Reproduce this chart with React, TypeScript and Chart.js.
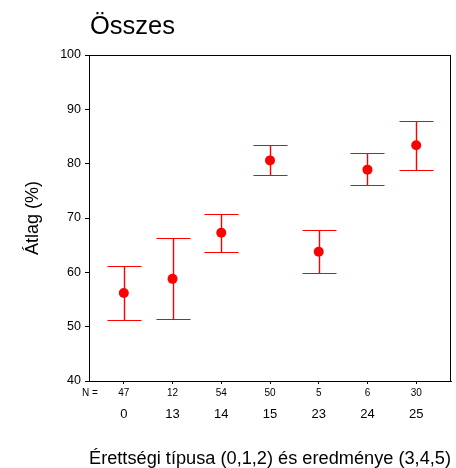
import React, { useEffect, useRef } from "react";
import { Chart, registerables } from "chart.js";

Chart.register(...registerables);

const categories = ["0", "13", "14", "15", "23", "24", "25"];
const counts = ["47", "12", "54", "50", "5", "6", "30"];
const means = [56.2, 58.8, 67.3, 80.6, 63.8, 78.9, 83.4];
const lower = [51.3, 51.4, 63.7, 77.9, 59.9, 76.1, 78.9];
const upper = [61.1, 66.3, 70.7, 83.4, 67.8, 81.9, 87.9];
const yTicks = [40, 50, 60, 70, 80, 90, 100];

const FONT = "'Liberation Sans', Arial, sans-serif";
const RED = "#ff0000";

const errorBars = {
  id: "errorBars",
  afterDatasetsDraw(chart: any) {
    const { ctx, chartArea } = chart;
    const xs = chart.scales.x;
    const ys = chart.scales.y;
    ctx.save();
    ctx.strokeStyle = RED;
    const half = 17;
    categories.forEach((_, i) => {
      const x = Math.round(xs.getPixelForValue(i)) + 0.5;
      const yl = Math.round(ys.getPixelForValue(lower[i])) + 0.5;
      const yu = Math.round(ys.getPixelForValue(upper[i])) + 0.5;
      ctx.lineWidth = 1.4;
      ctx.beginPath();
      ctx.moveTo(x, yl);
      ctx.lineTo(x, yu);
      ctx.stroke();
      ctx.lineWidth = 1.2;
      ctx.beginPath();
      ctx.moveTo(x - half, yl);
      ctx.lineTo(x + half, yl);
      ctx.moveTo(x - half, yu);
      ctx.lineTo(x + half, yu);
      ctx.stroke();
    });
    ctx.strokeStyle = "#000";
    ctx.lineWidth = 1;
    ctx.strokeRect(
      Math.round(chartArea.left) + 0.5,
      Math.round(chartArea.top) + 0.5,
      Math.round(chartArea.right - chartArea.left) - 1,
      Math.round(chartArea.bottom - chartArea.top)
    );
    ctx.restore();
  },
  afterDraw(chart: any) {
    const { ctx, chartArea } = chart;
    ctx.save();
    ctx.fillStyle = "#000";
    ctx.font = `25.5px ${FONT}`;
    ctx.textBaseline = "alphabetic";
    ctx.textAlign = "left";
    ctx.fillText("Összes", chartArea.left + 1, 34);
    ctx.font = `10px ${FONT}`;
    ctx.textAlign = "center";
    ctx.textBaseline = "middle";
    ctx.fillText("N =", chartArea.left + 1, 393);
    ctx.restore();
  },
};

export default function App() {
  const ref = useRef<HTMLCanvasElement | null>(null);
  useEffect(() => {
    if (!ref.current) return;
    const chart = new Chart(ref.current, {
      type: "scatter",
      data: {
        datasets: [
          {
            data: means.map((m, i) => ({ x: i, y: m })),
            backgroundColor: RED,
            borderColor: RED,
            pointStyle: "circle",
            pointRadius: 5,
            pointBorderWidth: 0,
            xAxisID: "x",
            yAxisID: "y",
          },
        ],
      },
      options: {
        animation: false,
        responsive: false,
        layout: { padding: { top: 55, right: 1, left: 0, bottom: 0 } },
        plugins: {
          legend: { display: false },
          tooltip: { enabled: false },
          title: { display: false },
        },
        scales: {
          y: {
            type: "linear",
            min: 40,
            max: 100,
            afterBuildTicks: (axis: any) => {
              axis.ticks = yTicks.map((v) => ({ value: v }));
            },
            afterFit: (axis: any) => {
              axis.width = 89;
            },
            ticks: {
              color: "#000",
              font: { family: FONT, size: 12.5 },
              padding: 4,
            },
            grid: {
              display: true,
              drawOnChartArea: false,
              drawTicks: true,
              tickLength: 4,
              color: "#000",
            },
            border: { display: true, color: "#000" },
            title: {
              display: true,
              text: "Átlag (%)",
              color: "#000",
              font: { family: FONT, size: 18 },
              padding: { top: 22, bottom: 0 },
            },
          },
          xN: {
            type: "linear",
            position: "bottom",
            weight: 0,
            min: -0.714,
            max: 6.714,
            afterBuildTicks: (axis: any) => {
              axis.ticks = categories.map((_, i) => ({ value: i }));
            },
            afterFit: (axis: any) => {
              axis.height = 22;
            },
            ticks: {
              color: "#000",
              font: { family: FONT, size: 10 },
              padding: 3,
              maxRotation: 0,
              autoSkip: false,
              callback: (v: any) => counts[Number(v)] ?? "",
            },
            grid: {
              display: true,
              drawOnChartArea: false,
              drawTicks: true,
              tickLength: 3,
              color: "#000",
            },
            border: { display: true, color: "#000" },
          },
          x: {
            type: "linear",
            position: "bottom",
            weight: 1,
            min: -0.714,
            max: 6.714,
            afterBuildTicks: (axis: any) => {
              axis.ticks = categories.map((_, i) => ({ value: i }));
            },
            afterFit: (axis: any) => {
              axis.height = 65;
            },
            ticks: {
              color: "#000",
              font: { family: FONT, size: 13 },
              padding: 4,
              maxRotation: 0,
              autoSkip: false,
              callback: (v: any) => categories[Number(v)] ?? "",
            },
            grid: { display: false, drawTicks: false },
            border: { display: false },
            title: {
              display: true,
              text: "Érettségi típusa (0,1,2) és eredménye (3,4,5)",
              color: "#000",
              font: { family: FONT, size: 18.3 },
              padding: { top: 0, bottom: -2 },
            },
          },
        },
      },
      plugins: [errorBars],
    });
    return () => chart.destroy();
  }, []);
  return (
    <div style={{ position: "absolute", left: 0, top: 0, width: 456, height: 468, background: "#fff" }}>
      <canvas ref={ref} width={456} height={468} style={{ display: "block" }} />
    </div>
  );
}
